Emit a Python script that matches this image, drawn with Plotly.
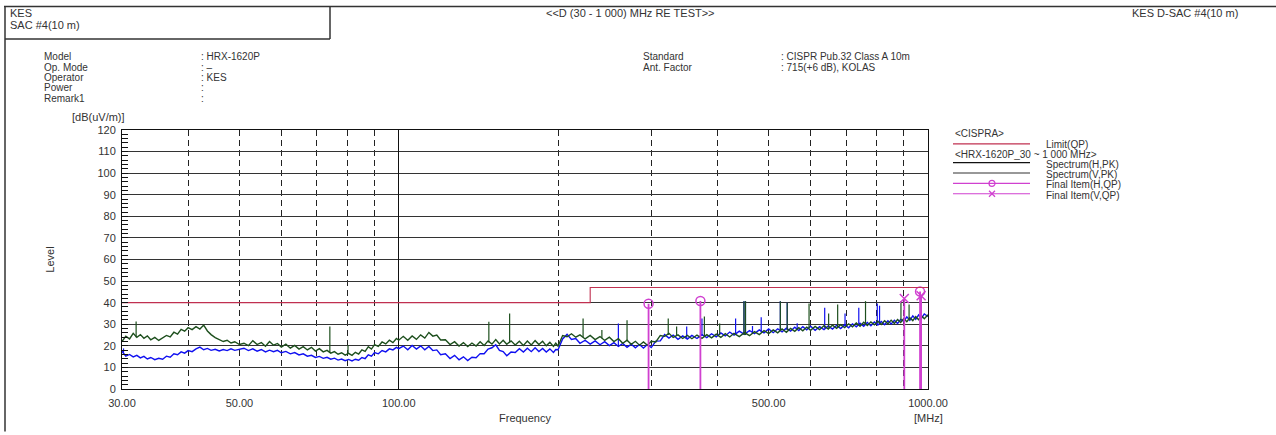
import math
import plotly.graph_objects as go

# ---------------- data ----------------
freq_mhz = [
    30, 30.5, 31, 31.5, 32, 32.5, 33, 33.5, 34, 34.6,
    35.2, 35.8, 36.4, 37, 37.6, 38.2, 38.8, 39.4, 40, 40.7,
    41.4, 42.1, 42.8, 43.5, 44.2, 45, 45.8, 46.6, 47.4, 48.2,
    49, 50,
    51, 52, 53, 54, 55, 56, 57, 58, 59, 60,
    61.2, 62.4, 63.6, 64.8, 66, 67.2, 68.4, 69.6, 70.8, 72,
    73.2, 74.4, 75.6, 76.8, 78, 79.2, 80.4, 81.6, 82.8, 84,
    85.2, 86.4, 87.6, 88.8, 90, 91.5, 93, 94.5, 96, 97.5,
    99, 100,
    102, 104, 106, 108, 110, 112, 114, 116, 118, 120,
    122.5, 125, 127.5, 130, 132.5, 135, 137.5, 140, 142.5, 145,
    147.5, 150, 152.5, 155, 157.5, 160, 163, 166, 169, 172,
    175, 178, 181, 184, 187, 190, 193, 196, 198, 200,
    204, 208, 212, 216, 220, 225, 230, 235, 240, 245,
    250, 255, 260, 265, 270, 275, 280, 285, 290, 295,
    300, 306, 312, 318, 324, 330, 337, 344, 351, 358,
    366, 374, 382, 390, 398, 406, 414, 422, 430, 440,
    450, 460, 470, 480, 490, 500,
    510, 520, 530, 540, 550, 560, 570, 580, 590, 600,
    612, 624, 636, 648, 660, 672, 684, 696, 708, 720,
    732, 744, 756, 768, 780, 792, 804, 816, 828, 840,
    852, 864, 876, 888, 900, 912, 924, 936, 948, 960,
    972, 984, 1000,
]

level_h_pk = [
    22.0, 24.5, 23.2, 25.8, 24.0, 25.2, 23.5, 24.6, 22.8, 23.9,
    22.5, 23.6, 24.8, 24.1, 26.3, 25.4, 27.6, 26.8, 28.4, 27.5,
    28.9, 27.8, 29.6, 26.9, 25.2, 23.8, 22.9, 22.0, 22.6, 21.3,
    21.9, 20.6,
    21.2, 20.1, 22.4, 20.6, 21.5, 19.8, 22.0, 20.3, 21.1, 19.4,
    20.8, 18.9, 20.2, 18.5, 19.6, 18.1, 19.3, 17.6, 18.7, 17.2,
    17.9, 16.6, 17.3, 16.1, 16.8, 15.7, 16.5, 15.6, 17.0, 16.2,
    18.1, 17.4, 19.6, 18.5, 20.6, 19.7, 21.8, 20.9, 22.6, 21.5,
    23.4, 22.6,
    24.4, 22.6, 24.6, 23.0, 25.1, 23.6, 26.2, 24.5, 25.0, 22.7,
    22.8, 20.6, 21.9, 19.9, 21.5, 19.7, 21.3, 19.9, 21.9, 20.2,
    22.3, 20.8, 22.9, 20.9, 22.6, 20.7, 22.3, 20.4, 22.1, 20.2,
    22.2, 20.4, 22.4, 20.6, 22.1, 20.0, 21.6, 19.7, 21.2, 19.9,
    24.8, 24.2, 25.6, 24.0, 25.1, 23.2, 24.8, 22.9, 24.3, 22.5,
    24.0, 22.0, 23.3, 21.2, 22.6, 20.7, 22.1, 20.3, 21.8, 20.2,
    22.1, 21.8, 24.8, 24.4, 25.8, 23.9, 25.1, 23.4, 24.9, 23.3,
    25.0, 23.5, 25.2, 23.7, 25.4, 23.9, 25.6, 24.1, 25.8, 24.3,
    26.1, 24.7, 26.6, 25.2, 27.1, 25.7,
    27.4, 26.0, 27.8, 26.3, 28.1, 26.7, 28.4, 27.0, 28.7, 27.2,
    29.0, 27.5, 29.3, 27.8, 29.6, 28.1, 29.8, 28.4, 30.2, 28.8,
    30.6, 29.1, 30.9, 29.4, 31.1, 29.7, 31.4, 29.9, 31.6, 30.2,
    31.9, 30.4, 32.2, 30.8, 32.6, 31.2, 33.0, 31.7, 33.5, 32.1,
    33.9, 32.6, 34.4,
]

level_v_pk = [
    17.5, 15.2, 16.0, 14.9, 15.6, 14.4, 15.1, 13.9, 14.6, 13.6,
    14.2, 13.8, 15.2, 14.7, 16.3, 15.9, 17.2, 16.6, 17.8, 17.3,
    18.6, 19.4, 18.2, 18.8, 17.9, 18.4, 17.6, 18.3, 17.8, 18.6,
    17.9, 18.5,
    18.9, 17.8, 18.6, 17.5, 18.3, 17.2, 18.0, 17.3, 17.9, 16.8,
    17.4, 16.3, 16.9, 15.8, 16.3, 15.2, 15.6, 14.6, 15.1, 14.2,
    14.7, 13.8, 14.3, 13.4, 13.9, 13.1, 13.7, 13.0, 13.8, 13.3,
    14.6, 14.1, 15.8, 15.2, 16.9, 16.3, 17.8, 17.2, 18.6, 18.1,
    19.3, 18.7,
    19.9, 18.2, 20.2, 18.5, 20.0, 18.2, 19.7, 17.8, 18.1, 15.9,
    16.3, 14.1, 15.6, 13.5, 14.9, 13.2, 14.7, 14.5, 16.4, 16.3,
    18.5, 19.1, 20.5, 17.9, 17.3, 15.4, 17.1, 16.9, 18.7, 17.1,
    18.9, 17.3, 19.1, 17.4, 18.8, 17.1, 18.6, 16.9, 18.3, 18.2,
    23.2, 25.3, 23.0, 23.4, 21.2, 22.6, 20.8, 22.3, 20.5, 21.9,
    20.1, 21.5, 19.7, 21.1, 19.3, 20.8, 19.1, 20.6, 19.0, 20.6,
    19.2, 22.2, 22.3, 25.2, 23.6, 25.0, 23.0, 24.6, 23.1, 24.8,
    23.4, 25.2, 23.8, 25.6, 24.2, 26.0, 24.6, 26.4, 25.0, 26.8,
    25.3, 27.1, 25.7, 27.4, 26.0, 27.8,
    26.1, 27.9, 26.5, 28.2, 26.8, 28.6, 27.1, 28.9, 27.4, 29.1,
    27.2, 28.9, 27.5, 29.2, 27.8, 29.5, 28.0, 29.8, 28.4, 30.2,
    28.8, 30.5, 29.1, 30.8, 29.3, 31.1, 29.6, 31.3, 29.8, 31.6,
    30.1, 31.8, 30.4, 32.2, 31.4, 33.4, 31.8, 33.9, 32.3, 34.3,
    32.7, 34.8, 33.6,
]

# narrow emission spikes: frequency, top level, level of the band under it
spike_h_freq = [31.9, 74.1, 80.2, 148, 162, 223, 242, 270, 323, 335, 378,
                404, 449, 452, 526, 542, 596, 649, 675, 762, 889, 921]
spike_h_top = [31.3, 29.0, 20.4, 31.2, 35.0, 32.7, 27.3, 31.9, 32.7, 29.0, 33.6,
               30.4, 40.7, 40.7, 40.7, 40.0, 39.6, 35.0, 39.2, 40.7, 40.7, 39.2]
spike_h_base = [24.0, 17.2, 16.3, 21.5, 21.6, 24.0, 23.5, 22.1, 25.0, 24.5, 24.5,
                25.0, 25.0, 25.0, 27.0, 27.2, 28.0, 28.4, 28.6, 30.2, 31.8, 32.0]

spike_v_freq = [30.2, 260, 350, 374, 433, 449, 452, 466, 484, 526, 542, 566,
                638, 697, 740, 802, 810]
spike_v_top = [18.8, 30.4, 29.0, 32.7, 32.7, 40.7, 40.7, 29.2, 33.2, 40.7, 40.0, 30.5,
               37.6, 35.0, 37.6, 39.6, 38.6]
spike_v_base = [17.0, 20.4, 23.6, 24.6, 25.1, 25.5, 25.5, 25.8, 26.4, 27.0, 27.3, 27.4,
                28.3, 28.8, 30.0, 30.1, 30.3]

limit_freq = [30, 230, 230, 1000]
limit_level = [40, 40, 47, 47]

final_h_freq = [296.5, 371.5, 966.0]
final_h_level = [39.5, 40.8, 45.2]
final_v_freq = [902.0, 970.5]
final_v_level = [41.9, 43.2]

x_tick_vals = [30, 50, 100, 500, 1000]
x_tick_text = ["30.00", "50.00", "100.00", "500.00", "1000.00"]
x_dash_grid = [40, 60, 70, 80, 90, 200, 300, 400, 600, 700, 800, 900]
y_tick_vals = list(range(0, 121, 10))

# ---------------- styling ----------------
FONT = "Liberation Sans"
TXT = "#333333"
GREEN = "#1d4f1d"
BLUE = "#1010f0"
LIMIT_C = "#c03050"
FINAL_C = "#d040d0"

W_FIG, H_FIG = 1276, 435
L, R, T, B = 122, 928, 130, 392


def px(x):
    return (x - L) / (R - L)


def py(y):
    return (B - y) / (B - T)


def spike_xy(freqs, tops, bases):
    xs, ys = [], []
    for f, t, b in zip(freqs, tops, bases):
        xs += [f, f, None]
        ys += [b, t, None]
    return xs, ys


fig = go.Figure()

fig.add_trace(go.Scatter(x=freq_mhz, y=level_v_pk, mode="lines",
                         line=dict(color=BLUE, width=1.4), name="Spectrum(V,PK)",
                         showlegend=False))
sx, sy = spike_xy(spike_v_freq, spike_v_top, spike_v_base)
fig.add_trace(go.Scatter(x=sx, y=sy, mode="lines", line=dict(color=BLUE, width=1.2),
                         showlegend=False, hoverinfo="skip"))

fig.add_trace(go.Scatter(x=freq_mhz, y=level_h_pk, mode="lines",
                         line=dict(color=GREEN, width=1.4), name="Spectrum(H,PK)",
                         showlegend=False))
sx, sy = spike_xy(spike_h_freq, spike_h_top, spike_h_base)
fig.add_trace(go.Scatter(x=sx, y=sy, mode="lines", line=dict(color=GREEN, width=1.2),
                         showlegend=False, hoverinfo="skip"))

fig.add_trace(go.Scatter(x=limit_freq, y=limit_level, mode="lines", xaxis="x2",
                         line=dict(color=LIMIT_C, width=1.1), name="Limit(QP)",
                         showlegend=False))

fx, fy = [], []
for f, lv in zip(final_h_freq + final_v_freq, final_h_level + final_v_level):
    fx += [f, f, None]
    fy += [0, lv, None]
fig.add_trace(go.Scatter(x=fx, y=fy, mode="lines", line=dict(color=FINAL_C, width=1.8),
                         showlegend=False, hoverinfo="skip"))
fig.add_trace(go.Scatter(x=final_h_freq, y=final_h_level, mode="markers",
                         marker=dict(symbol="circle-open", size=9, color=FINAL_C,
                                     line=dict(width=1.5, color=FINAL_C)),
                         name="Final Item(H,QP)", showlegend=False))
fig.add_trace(go.Scatter(x=final_v_freq, y=final_v_level, mode="markers",
                         marker=dict(symbol="x-thin-open", size=9, color=FINAL_C,
                                     line=dict(width=1.5, color=FINAL_C)),
                         name="Final Item(V,QP)", showlegend=False))

xr = [math.log10(30), math.log10(1000)]

fig.update_layout(
    width=W_FIG, height=H_FIG, autosize=False,
    margin=dict(l=L, r=W_FIG - R, t=T, b=H_FIG - B, pad=0),
    paper_bgcolor="white", plot_bgcolor="white",
    font=dict(family=FONT, size=11, color=TXT),
    showlegend=False,
    xaxis=dict(
        type="log", range=xr, tickmode="array", tickvals=x_tick_vals, ticktext=x_tick_text,
        ticks="", showgrid=True, griddash="6px,4px", gridcolor="#222222", gridwidth=1,
        minor=dict(tickmode="array", tickvals=x_dash_grid, showgrid=True, griddash="6px,4px",
                   gridcolor="#222222", gridwidth=1, ticks=""),
        showline=True, mirror=True, linecolor="#111111", linewidth=1, zeroline=False,
        tickfont=dict(size=11, color=TXT), ticklabelstandoff=4,
        title=dict(text="Frequency", standoff=6, font=dict(size=11, color=TXT)),
    ),
    xaxis2=dict(
        type="log", range=xr, overlaying="x", anchor="y", side="bottom",
        tickmode="array", tickvals=[100], showticklabels=False, ticks="",
        showgrid=True, gridcolor="#111111", gridwidth=1, showline=False, zeroline=False,
    ),
    yaxis=dict(
        range=[0, 120], tickmode="array", tickvals=y_tick_vals,
        ticks="inside", ticklen=6, tickcolor="#111111", tickwidth=1,
        showgrid=True, gridcolor="#333333", gridwidth=1,
        minor=dict(dtick=2, tick0=0, ticks="inside", ticklen=6, tickcolor="#111111",
                   tickwidth=1, showgrid=False),
        showline=True, mirror=True, linecolor="#111111", linewidth=1, zeroline=False,
        tickfont=dict(size=11, color=TXT), ticklabelstandoff=3,
        title=dict(text="Level", standoff=40, font=dict(size=11, color=TXT)),
    ),
)

shapes = []
line_c = "#333333"
# page frame and header box
shapes.append(dict(type="line", xref="paper", yref="paper", x0=px(4), x1=px(1276), y0=py(5), y1=py(5),
                   line=dict(color=line_c, width=1.5)))
shapes.append(dict(type="line", xref="paper", yref="paper", x0=px(5), x1=px(5), y0=py(5), y1=py(435),
                   line=dict(color=line_c, width=1.5)))
shapes.append(dict(type="line", xref="paper", yref="paper", x0=px(330), x1=px(330), y0=py(5), y1=py(38),
                   line=dict(color=line_c, width=1.5)))
shapes.append(dict(type="line", xref="paper", yref="paper", x0=px(5), x1=px(330), y0=py(38), y1=py(38),
                   line=dict(color=line_c, width=1.5)))

# legend lines
LX0, LX1 = 953, 1030
leg_rows = [(144, LIMIT_C), (163, "#111111"), (173.5, "#333333"), (184, FINAL_C), (194.5, FINAL_C)]
for yy, c in leg_rows:
    shapes.append(dict(type="line", xref="paper", yref="paper", x0=px(LX0), x1=px(LX1),
                       y0=py(yy), y1=py(yy), line=dict(color=c, width=1.2)))
# legend marker: circle for H, cross for V
shapes.append(dict(type="circle", xref="paper", yref="paper", x0=px(989), x1=px(995),
                   y0=py(181), y1=py(187), line=dict(color=FINAL_C, width=1.2)))
for dx0, dy0, dx1, dy1 in [(989, 191.5, 995, 197.5), (989, 197.5, 995, 191.5)]:
    shapes.append(dict(type="line", xref="paper", yref="paper", x0=px(dx0), x1=px(dx1),
                       y0=py(dy0), y1=py(dy1), line=dict(color=FINAL_C, width=1.2)))
fig.update_layout(shapes=shapes)

ann = []


def text(t, x, y, xa="left", size=11):
    ann.append(dict(text=t, x=px(x), y=py(y), xref="paper", yref="paper", xanchor=xa,
                    yanchor="middle", showarrow=False, font=dict(family=FONT, size=size, color=TXT)))


text("KES", 8, 12)
text("SAC #4(10 m)", 8, 24)
text("&lt;&lt;D (30 - 1 000) MHz RE TEST&gt;&gt;", 630, 12, "center")
text("KES D-SAC #4(10 m)", 1240, 12, "right")

info_left = ["Model", "Op. Mode", "Operator", "Power", "Remark1"]
info_vals = [": HRX-1620P", ": –", ": KES", ":", ":"]
for i, (a, b) in enumerate(zip(info_left, info_vals)):
    text(a, 42, 56 + 10.5 * i, size=10)
    text(b, 199, 56 + 10.5 * i, size=10)
text("Standard", 641, 56, size=10)
text("Ant. Factor", 641, 66.5, size=10)
text(": CISPR Pub.32 Class A 10m", 779, 56, size=10)
text(": 715(+6 dB), KOLAS", 779, 66.5, size=10)

text("[dB(uV/m)]", 70, 117)
text("[MHz]", 928, 421, "center")

text("&lt;CISPRA&gt;", 953, 134, size=10)
text("Limit(QP)", 1044, 145, size=10)
text("&lt;HRX-1620P_30 ~ 1 000 MHz&gt;", 953, 155, size=10)
text("Spectrum(H,PK)", 1044, 164.5, size=10)
text("Spectrum(V,PK)", 1044, 175, size=10)
text("Final Item(H,QP)", 1044, 185.5, size=10)
text("Final Item(V,QP)", 1044, 196, size=10)

fig.update_layout(annotations=ann)

fig.write_html("out.html", config={"displayModeBar": False},
               post_script="document.body.style.margin='0px';")
